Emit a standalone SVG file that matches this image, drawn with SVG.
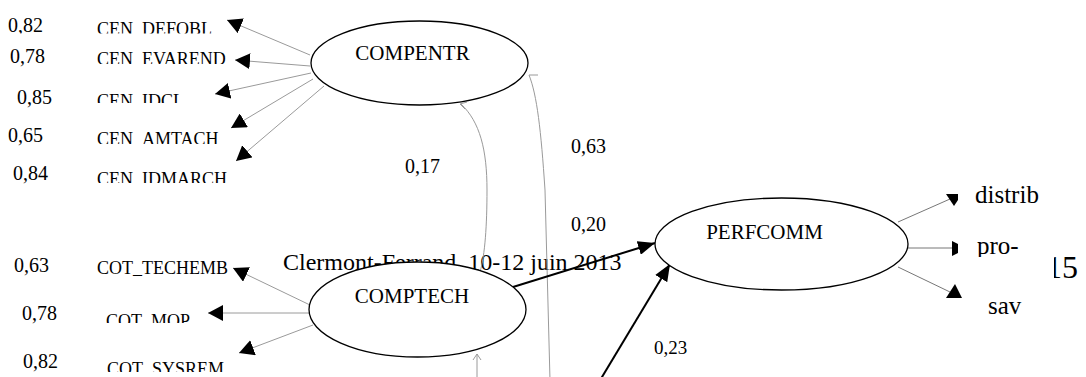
<svg xmlns="http://www.w3.org/2000/svg" width="1086" height="377" viewBox="0 0 1086 377" font-family="'Liberation Serif', 'Times New Roman', serif">
<style>
text{font-family:'Liberation Serif','Times New Roman',serif;fill:#000}
.num{font-size:20px}
.lab{font-size:18px}
.nd{font-size:21px;text-anchor:middle}
.big{font-size:25px}
.thin{stroke:#9a9a9a;stroke-width:1;fill:none}
.thinr{stroke:#777;stroke-width:1;fill:none}
.thick{stroke:#000;stroke-width:2;fill:none}
.ell{fill:#fff;stroke:#000;stroke-width:1.3}
.head{fill:#000}
</style>
<defs>
<marker id="ah" markerUnits="userSpaceOnUse" markerWidth="15" markerHeight="16" refX="15" refY="8" orient="auto" viewBox="0 0 15 16"><path d="M0,0L15,8L0,16z" fill="#000"/></marker>
<marker id="ahk" markerUnits="userSpaceOnUse" markerWidth="17" markerHeight="14" refX="17" refY="7" orient="auto" viewBox="0 0 17 14"><path d="M0,0L17,7L0,14z" fill="#000"/></marker>
<clipPath id="c1"><rect x="0" y="0" width="1086" height="33.5"/></clipPath>
<clipPath id="c2"><rect x="0" y="0" width="1086" height="64"/></clipPath>
<clipPath id="c3"><rect x="0" y="0" width="1086" height="103"/></clipPath>
<clipPath id="c4"><rect x="0" y="0" width="1086" height="144"/></clipPath>
<clipPath id="c5"><rect x="0" y="0" width="1086" height="183"/></clipPath>
<clipPath id="c6"><rect x="0" y="0" width="1086" height="323"/></clipPath>
<clipPath id="c7"><rect x="0" y="0" width="1086" height="372"/></clipPath>
<clipPath id="c8"><rect x="0" y="0" width="1086" height="257"/></clipPath>
<clipPath id="c9"><rect x="1054" y="0" width="40" height="377"/></clipPath>
</defs>

<text x="283" y="270" font-family="'Liberation Serif', serif" style="font-size:24px">Clermont-Ferrand, 10-12 juin 2013</text>
<text x="1046" y="278" font-family="'Liberation Serif', serif" style="font-size:32px" clip-path="url(#c9)">15</text>

<g id="connectors">
  <line class="thin" x1="310" y1="55" x2="227" y2="20" marker-end="url(#ah)"/>
  <line class="thin" x1="310" y1="66" x2="235" y2="60" marker-end="url(#ah)"/>
  <line class="thin" x1="311" y1="73" x2="215" y2="94" marker-end="url(#ah)"/>
  <line class="thin" x1="313" y1="79" x2="231" y2="128" marker-end="url(#ah)"/>
  <line class="thin" x1="324" y1="86" x2="236" y2="161" marker-end="url(#ah)"/>

  <line class="thin" x1="310" y1="305" x2="233" y2="268" marker-end="url(#ah)"/>
  <line class="thin" x1="310" y1="313" x2="208" y2="313" marker-end="url(#ah)"/>
  <line class="thin" x1="313" y1="325" x2="239" y2="353" marker-end="url(#ah)"/>

  <path class="thin" d="M480,272 C485,255 487,225 487,190 C487,150 480,122 461,104"/>
  <path class="thin" d="M467,102 L460,104 L465,109"/>
  <path class="thin" d="M550,380 L545,190 C541,130 537,95 529,75"/>
  <path class="thin" d="M529,75 L538,75"/>
  <path class="thin" d="M477,380 L477,354 M473,360 L477,354 L481,360"/>

  <line class="thick" x1="513" y1="287" x2="655" y2="243" marker-end="url(#ahk)"/>
  <line class="thick" x1="599" y1="382" x2="670" y2="264" marker-end="url(#ahk)"/>

  <line class="thinr" x1="898" y1="222" x2="950" y2="199"/>
  <polygon class="head" points="946,194 958,194 958,200 954,206"/>
  <line class="thinr" x1="908" y1="248" x2="953" y2="248"/>
  <polygon class="head" points="952,241 958,244 958,253 952,256"/>
  <line class="thinr" x1="898" y1="267" x2="950" y2="292"/>
  <polygon class="head" points="955,284 962,298 946,298"/>
</g>

<g id="n-cen-defobl"><text class="num" x="8" y="32" clip-path="url(#c1)">0,82</text><text class="lab" x="97" y="35" clip-path="url(#c1)">CEN_DEFOBL</text></g>
<g id="n-cen-evarend"><text class="num" x="10" y="63">0,78</text><text class="lab" x="97" y="65" clip-path="url(#c2)">CEN_EVAREND</text></g>
<g id="n-cen-idcl"><text class="num" x="17" y="104">0,85</text><text class="lab" x="97" y="107" clip-path="url(#c3)">CEN_IDCL</text></g>
<g id="n-cen-amtach"><text class="num" x="8" y="142">0,65</text><text class="lab" x="97" y="145" clip-path="url(#c4)">CEN_AMTACH</text></g>
<g id="n-cen-idmarch"><text class="num" x="13" y="180">0,84</text><text class="lab" x="97" y="185" clip-path="url(#c5)">CEN_IDMARCH</text></g>

<g id="n-cot-techemb"><text class="num" x="14" y="272">0,63</text><text class="lab" x="97" y="274">COT_TECHEMB</text></g>
<g id="n-cot-mop"><text class="num" x="22" y="320">0,78</text><text class="lab" x="106" y="327" clip-path="url(#c6)">COT_MOP</text></g>
<g id="n-cot-sysrem"><text class="num" x="23" y="368">0,82</text><text class="lab" x="107" y="375" clip-path="url(#c7)">COT_SYSREM</text></g>

<g id="coef-labels">
  <text class="num" x="405" y="173">0,17</text>
  <text class="num" x="571" y="153">0,63</text>
  <text class="num" x="571" y="231">0,20</text>
  <text class="num" x="654" y="354" style="font-size:19px">0,23</text>
</g>

<g id="n-compentr"><ellipse class="ell" cx="419.5" cy="63" rx="108.5" ry="42"/><text class="nd" x="412.5" y="60">COMPENTR</text></g>
<g id="n-comptech"><ellipse class="ell" cx="417.5" cy="309.5" rx="108.5" ry="47.5"/><text class="nd" x="412" y="303">COMPTECH</text></g>
<g id="n-perfcomm"><ellipse class="ell" cx="781.5" cy="244" rx="126.5" ry="46"/><text class="nd" x="764.5" y="239">PERFCOMM</text></g>

<g id="n-distrib"><text class="big" x="975" y="203">distrib</text></g>
<g id="n-pro"><text class="big" x="977" y="254" clip-path="url(#c8)">pro-</text></g>
<g id="n-sav"><text class="big" x="988" y="314">sav</text></g>
</svg>
